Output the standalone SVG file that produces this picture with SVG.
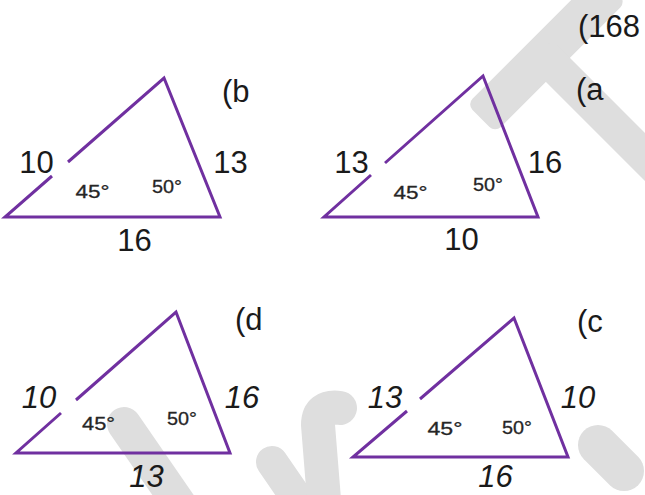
<svg xmlns="http://www.w3.org/2000/svg" width="645" height="495" viewBox="0 0 645 495">
<style>
.wm{fill:none;stroke:#dedede;stroke-linecap:round;stroke-linejoin:round}
.tri{fill:none;stroke:#7030a0;stroke-width:3;stroke-linejoin:miter}
.big{font-family:"Liberation Sans",Arial,sans-serif;font-size:31px;fill:#1a1a1a}
.it{font-family:"Liberation Sans",Arial,sans-serif;font-size:31px;font-style:italic;fill:#1a1a1a;text-anchor:middle}
.num{text-anchor:middle}
.ang{font-family:"Liberation Sans",Arial,sans-serif;font-size:19px;fill:#262626;text-anchor:middle;stroke:#262626;stroke-width:0.3}
</style>
<rect width="645" height="495" fill="#ffffff"/>
<g id="watermark">
  <rect x="0" y="-20" width="185" height="40" rx="8" fill="#dedede" transform="translate(481,118.5) rotate(-45)"/>
  <rect x="0" y="-17" width="200" height="34" rx="6" fill="#dedede" transform="translate(540,52) rotate(45)"/>
  <path class="wm" stroke-width="34" d="M124 424 L182 508"/>
  <path class="wm" stroke-width="32" d="M272 462 L305 510"/>
  <path class="wm" stroke-width="34" d="M325 512 L318 425 Q318 405 340 408"/>
  <path class="wm" stroke-width="40" d="M598 445 L624 471"/>
</g>
<text class="big" x="578" y="37">(168</text>
<g id="tri-b">
  <path class="tri" d="M52 176 L5 217 L220 217 L164 78 L68 162"/>
  <text class="big num" x="36.5" y="173">10</text>
  <text class="big num" x="230.5" y="173">13</text>
  <text class="big num" x="134.5" y="251">16</text>
  <text class="ang" x="92.5" y="198" textLength="34" lengthAdjust="spacingAndGlyphs">45°</text>
  <text class="ang" x="167" y="193" textLength="30" lengthAdjust="spacingAndGlyphs">50°</text>
  <text class="big" x="222" y="102">(b</text>
</g>
<g id="tri-a">
  <path class="tri" d="M371 175 L324 217 L538 217 L483 76 L385 163"/>
  <text class="big num" x="351.5" y="173">13</text>
  <text class="big num" x="545" y="173">16</text>
  <text class="big num" x="461.5" y="250">10</text>
  <text class="ang" x="410.5" y="199" textLength="34" lengthAdjust="spacingAndGlyphs">45°</text>
  <text class="ang" x="488" y="191" textLength="30" lengthAdjust="spacingAndGlyphs">50°</text>
  <text class="big" x="576" y="100">(a</text>
</g>
<g id="tri-d">
  <path class="tri" d="M61 413 L16 453 L230 453 L176 312 L76 400"/>
  <text class="it" x="39" y="408">10</text>
  <text class="it" x="242" y="408">16</text>
  <text class="it" x="146.5" y="487">13</text>
  <text class="ang" x="98.5" y="430" textLength="33" lengthAdjust="spacingAndGlyphs">45°</text>
  <text class="ang" x="182" y="425" textLength="30" lengthAdjust="spacingAndGlyphs">50°</text>
  <text class="big" x="235" y="330">(d</text>
</g>
<g id="tri-c">
  <path class="tri" d="M407 411 L353 457 L568 457 L514 318 L420 399"/>
  <text class="it" x="385" y="408">13</text>
  <text class="it" x="578" y="408">10</text>
  <text class="it" x="495.5" y="487">16</text>
  <text class="ang" x="445" y="435" textLength="35" lengthAdjust="spacingAndGlyphs">45°</text>
  <text class="ang" x="517" y="434" textLength="30" lengthAdjust="spacingAndGlyphs">50°</text>
  <text class="big" x="577" y="332">(c</text>
</g>
</svg>
